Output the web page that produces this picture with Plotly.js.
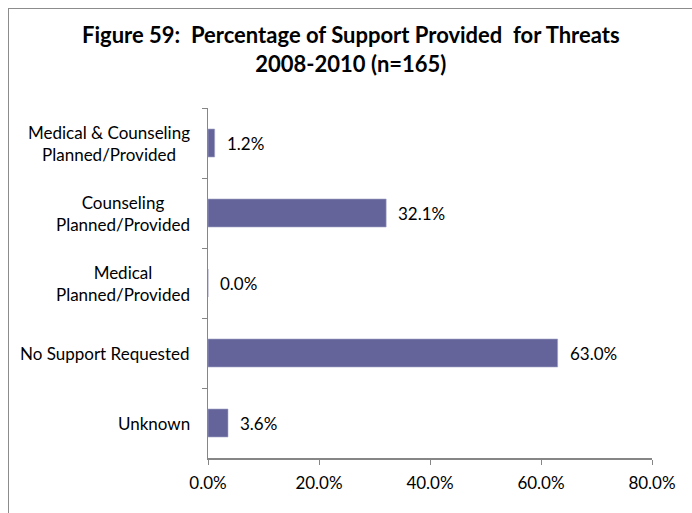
<!DOCTYPE html>
<html>
<head>
<meta charset="utf-8">
<script src="https://cdn.plot.ly/plotly-3.0.1.min.js"></script>
<style>
  html, body { margin: 0; padding: 0; background: #fff; overflow: hidden; }
  #frame { position: absolute; left: 8px; top: 8px; width: 720px; height: 540px; border: 1.5px solid #8c8c8c; box-sizing: border-box; }
  #chart { position: absolute; left: 0; top: 0; width: 692px; height: 513px; }
</style>
</head>
<body>
<div id="frame"></div>
<div id="chart"></div>
<script>
const categories = ["Medical & Counseling<br>Planned/Provided", "Counseling<br>Planned/Provided", "Medical<br>Planned/Provided", "No Support Requested", "Unknown"];
const values = [1.2, 32.1, 0.0, 63.0, 3.6];
const tickVals = [0, 20, 40, 60, 80];
const tickLabels = ["0.0%", "20.0%", "40.0%", "60.0%", "80.0%"];

const font = "Lato, 'Open Sans', sans-serif";
const fs = 17;

const trace = {
  type: "bar",
  orientation: "h",
  x: values,
  y: categories,
  marker: { color: "#64649a", line: { color: "#a4a4c8", width: 0.6 } },
  hoverinfo: "none"
};

const annotations = [];
categories.forEach((c, i) => {
  annotations.push({
    x: 0, xref: "paper", y: c, yref: "y",
    text: c, showarrow: false, xanchor: "right", xshift: -16, align: "center",
    font: { family: font, size: fs, color: "#000" }
  });
  annotations.push({
    x: values[i], xref: "x", y: c, yref: "y",
    text: values[i].toFixed(1) + "%", showarrow: false, xanchor: "left", xshift: 10,
    font: { family: font, size: fs, color: "#000" }
  });
});

const layout = {
  width: 692, height: 513,
  paper_bgcolor: "rgba(0,0,0,0)", plot_bgcolor: "rgba(0,0,0,0)",
  margin: { l: 208, r: 40, t: 108, b: 55 },
  title: {
    text: "<b>Figure 59:  Percentage of Support Provided  for Threats<br>2008-2010 (n=165)</b>",
    font: { family: font, size: 22, color: "#000" },
    x: 0.507, xanchor: "center", y: 0.916, yanchor: "top"
  },
  bargap: 0.6,
  showlegend: false,
  xaxis: {
    range: [0, 80], tickvals: tickVals, ticktext: tickLabels,
    showgrid: false, zeroline: false,
    showline: true, linecolor: "#868686", linewidth: 1.5,
    ticks: "outside", ticklen: 5, tickcolor: "#868686", tickwidth: 1,
    ticklabelstandoff: 4,
    tickfont: { family: font, size: fs, color: "#000" },
    fixedrange: true
  },
  yaxis: {
    type: "category", autorange: "reversed",
    showticklabels: false, showgrid: false, zeroline: false,
    showline: true, linecolor: "#868686", linewidth: 1.5,
    ticks: "outside", tickson: "boundaries", ticklen: 5, tickcolor: "#868686", tickwidth: 1,
    fixedrange: true
  },
  annotations: annotations
};

Plotly.newPlot("chart", [trace], layout, { displayModeBar: false, staticPlot: true });
</script>
</body>
</html>
